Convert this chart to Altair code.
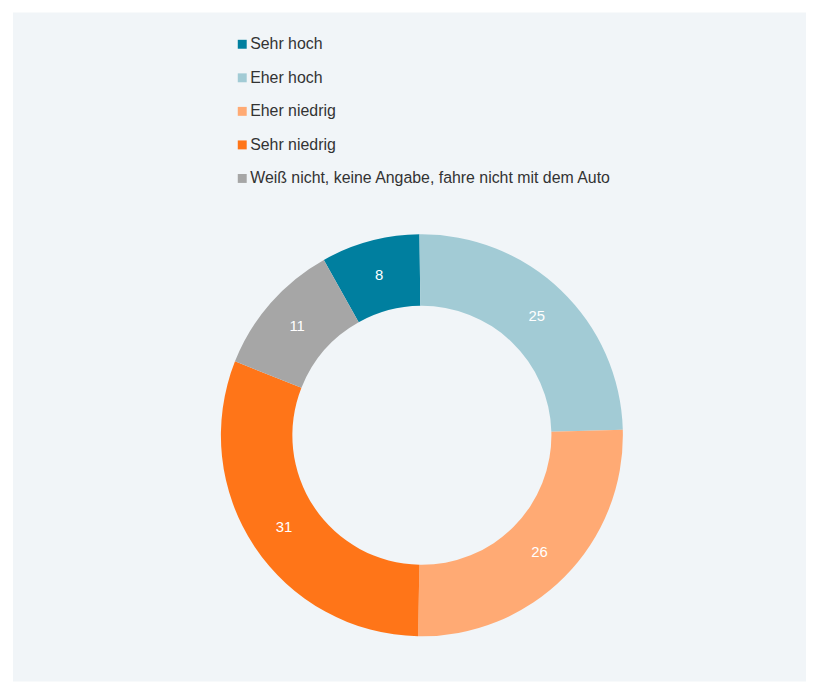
import math
import altair as alt
import pandas as pd

categories = ["Sehr hoch", "Eher hoch", "Eher niedrig", "Sehr niedrig",
              "Weiß nicht, keine Angabe, fahre nicht mit dem Auto"]
values = [8, 25, 26, 31, 11]
# drawing order clockwise from 12 o'clock
draw_order = [5, 1, 2, 3, 4]
colors = ["#007f9f", "#a2cbd5", "#ffaa74", "#ff7518", "#a6a6a6"]

df = pd.DataFrame({"cat": categories, "value": values, "ord": draw_order})

cx, cy = 412, 426
start = -0.012
theta_scale = alt.Scale(range=[start, start + 2 * math.pi])

base = alt.Chart(df).encode(
    theta=alt.Theta("value:Q", stack=True, scale=theta_scale),
    order=alt.Order("ord:Q"),
)

arcs = base.mark_arc(outerRadius=202.5, innerRadius=130.5, stroke=None).encode(
    x=alt.value(cx), y=alt.value(cy),
    color=alt.Color(
        "cat:N",
        scale=alt.Scale(domain=categories, range=colors),
        sort=categories,
        legend=alt.Legend(
            title=None, orient="none", legendX=223, legendY=24,
            symbolType="square", symbolSize=81, symbolStrokeWidth=0,
            labelFont="Liberation Sans", labelFontSize=16, labelColor="#333333",
            labelOffset=0, rowPadding=17.8, labelLimit=600, padding=0,
        ),
    ),
)

labels = base.mark_text(radius=167, font="Liberation Sans", fontSize=15,
                        color="white").encode(
    x=alt.value(cx), y=alt.value(cy),
    text=alt.Text("value:Q"),
)

chart = alt.layer(arcs, labels).properties(
    width=799, height=674,
    padding={"left": 5, "top": 2, "right": 0, "bottom": 0},
    background="white",
).configure_view(fill="#f1f5f8", strokeWidth=0)

chart.save("out.html", embed_options={"renderer": "svg", "actions": False})
